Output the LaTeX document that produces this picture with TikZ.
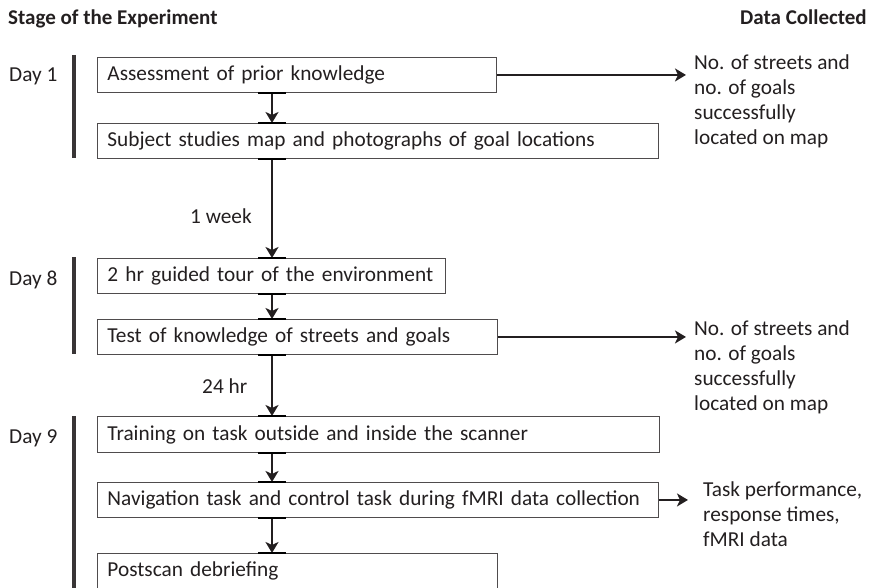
\documentclass[tikz,border=0pt]{standalone}
\usepackage{fontspec}
\setmainfont{Carlito}
\usetikzlibrary{arrows.meta}
\definecolor{ink}{HTML}{231F20}
\begin{document}
\begin{tikzpicture}[x=1pt,y=-1pt,
  font=\fontsize{21.3}{25}\selectfont, text=ink,
  box/.style={draw=ink!80, line width=0.9pt, anchor=north west, inner xsep=10pt, inner ysep=0pt, minimum height=35pt, align=left},
  lbl/.style={anchor=base west, inner sep=0pt},
  head/.style={anchor=base west, inner sep=0pt, font=\fontsize{21}{25}\selectfont\bfseries},
  data/.style={anchor=base west, inner sep=0pt, align=left},
  arr/.style={draw=ink, line width=2.6pt, -{Stealth[length=11pt,width=13pt,inset=3pt]}},
  tick/.style={draw=black, line width=1.8pt},
  bar/.style={draw=ink!90, line width=3.6pt}]
\useasboundingbox (0,0) rectangle (870,588);
\coordinate (ax) at (272,0);
\node[head] (h1) at (8,25) {Stage of the Experiment};
\node[head] (h2) at (740,25) {Data Collected};
\node[lbl] (day1) at (9,82) {Day 1};
\node[lbl] (day8) at (9,285) {Day 8};
\node[lbl] (day9) at (9,443) {Day 9};
\draw[bar] (74,55) -- (74,158);
\draw[bar] (74,257) -- (74,354);
\draw[bar] (74,416) -- (74,588);
\node[box, text width=379pt] (b1) at (97,57) {\mbox{Assessment of prior knowledge}};
\node[box, text width=541pt] (b2) at (97,123) {\mbox{Subject studies map and photographs of goal locations}};
\node[box, text width=328pt] (b3) at (97,258) {\mbox{2 hr guided tour of the environment}};
\node[box, text width=380pt] (b4) at (97,319) {\mbox{Test of knowledge of streets and goals}};
\node[box, text width=542pt, minimum height=36pt] (b5) at (97,416) {\mbox{Training on task outside and inside the scanner}};
\node[box, text width=541pt] (b6) at (97,482) {\mbox{Navigation task and control task during fMRI data collection}};
\node[box, text width=380pt] (b7) at (97,553) {\mbox{Postscan debriefing}};
\node[lbl] (w1) at (190,223) {1 week};
\node[lbl] (w2) at (202,393) {24 hr};
\node[data] (d1) at (694,145) {No. of streets and\\no. of goals\\successfully\\located on map};
\node[data] (d2) at (694,410) {No. of streets and\\no. of goals\\successfully\\located on map};
\node[data] (d3) at (703,546) {Task performance,\\response times,\\fMRI data};
\foreach \a/\b in {b1/b2,b2/b3,b3/b4,b4/b5,b5/b6,b6/b7}{
  \draw[arr] (\a.south -| ax) -- (\b.north -| ax);
  \draw[tick] (\a.south -| ax) ++(-14,0) -- ++(28,0);
  \draw[tick] (\b.north -| ax) ++(-14,0) -- ++(28,0);
}
\draw[arr, shorten >=8pt] (b1.east) -- (b1.east -| d1.west);
\draw[arr, shorten >=8pt] (b4.east) -- (b4.east -| d2.west);
\draw[arr, shorten >=15pt] (b6.east) -- (b6.east -| d3.west);
\end{tikzpicture}
\end{document}
